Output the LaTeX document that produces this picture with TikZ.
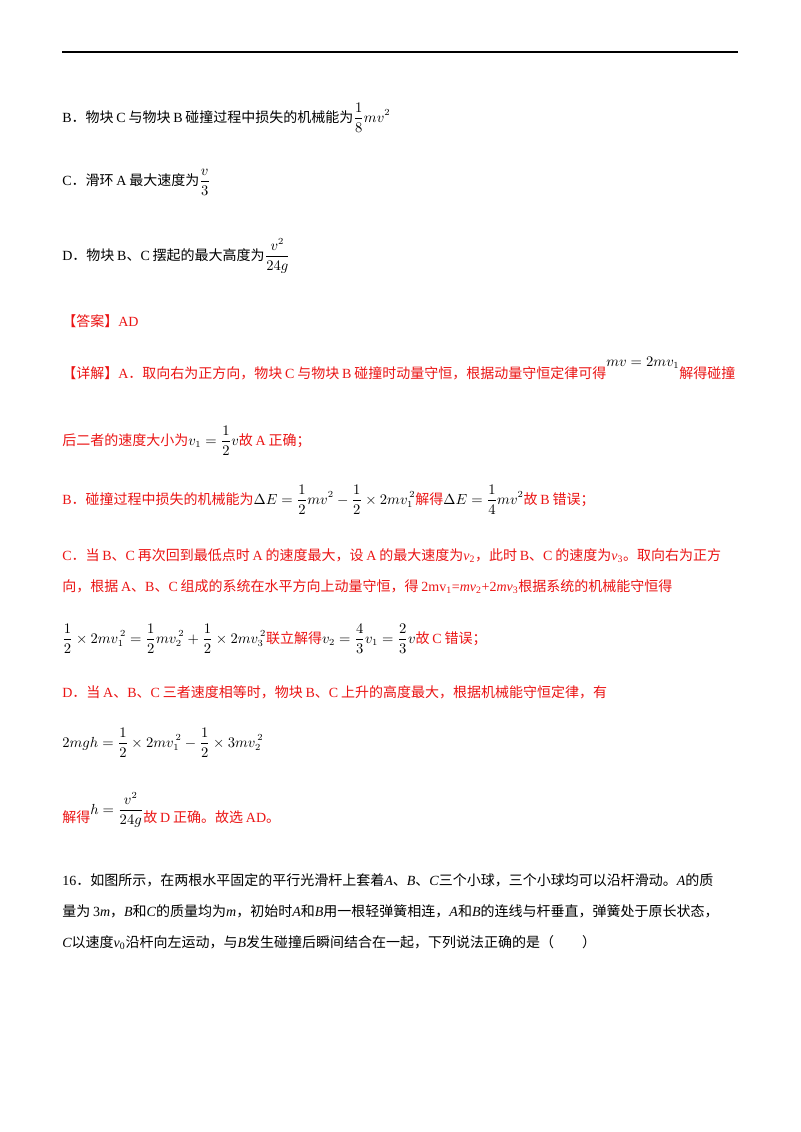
\documentclass[tikz,border=0pt]{standalone}
\usepackage{fontspec}
\usepackage{amsmath}
\setmainfont{Liberation Serif}
\newfontfamily\cjk{Noto Sans CJK SC}
\newfontfamily\lat{Liberation Serif}
\XeTeXinterchartokenstate=1
\newXeTeXintercharclass\cjkclass
\newXeTeXintercharclass\cjkpunct
\count255="4E00
\loop\XeTeXcharclass\count255=\cjkclass\ifnum\count255<"9FFF\advance\count255 1\repeat
\count255="3000
\loop\XeTeXcharclass\count255=\cjkpunct\ifnum\count255<"303F\advance\count255 1\repeat
\count255="FF00
\loop\XeTeXcharclass\count255=\cjkpunct\ifnum\count255<"FFEF\advance\count255 1\repeat
\XeTeXinterchartoks 0 \cjkclass={\hspace{0.2em}\cjk}
\XeTeXinterchartoks 4095 \cjkclass={\cjk}
\XeTeXinterchartoks \cjkclass 0={\lat\hspace{0.2em}}
\XeTeXinterchartoks \cjkclass 4095={\lat}
\XeTeXinterchartoks 0 \cjkpunct={\cjk}
\XeTeXinterchartoks 4095 \cjkpunct={\cjk}
\XeTeXinterchartoks \cjkpunct 0={\lat}
\XeTeXinterchartoks \cjkpunct 4095={\lat}
\definecolor{ansred}{RGB}{235,20,20}
\newcommand{\bk}[1]{{\color{black}#1}}
\tikzset{ln/.style={anchor=base west,inner sep=0pt,font=\fontsize{10.5}{13}\selectfont}}
\begin{document}
\begin{tikzpicture}[x=0.75pt,y=-0.75pt]
\useasboundingbox[fill=white] (0,0) rectangle (800,1132);
\coordinate (l) at (62,52); \coordinate (r) at (738,52);
\draw[line width=1.5pt] (l) -- (r);
\node[ln] (b) at (62,122) {B．物块C与物块B碰撞过程中损失的机械能为$\displaystyle\frac{1}{8}mv^2$};
\node[ln] (c) at (62,185) {C．滑环A最大速度为$\displaystyle\frac{v}{3}$};
\node[ln] (d) at (62,260) {D．物块B、C摆起的最大高度为$\displaystyle\frac{v^2}{24g}$};
\node[ln,text=ansred] (ans) at (62,326) {【答案】AD};
\node[ln,text=ansred] (x1) at (62,378) {【详解】A．取向右为正方向，物块C与物块B碰撞时动量守恒，根据动量守恒定律可得\raisebox{9pt}{\bk{$mv=2mv_1$}}解得碰撞};
\node[ln,text=ansred] (x2) at (62,445) {后二者的速度大小为\bk{$v_1=\displaystyle\frac{1}{2}v$}故A正确；};
\node[ln,text=ansred] (x3) at (62,504) {B．碰撞过程中损失的机械能为\bk{$\Delta E=\displaystyle\frac{1}{2}mv^2-\frac{1}{2}\times2mv_1^{\,2}$}解得\bk{$\Delta E=\displaystyle\frac{1}{4}mv^2$}故B错误；};
\node[ln,text=ansred] (x4) at (62,560) {C．当B、C再次回到最低点时A的速度最大，设A的最大速度为\textit{v}\textsubscript{2}，此时B、C的速度为\textit{v}\textsubscript{3}。取向右为正方};
\node[ln,text=ansred] (x5) at (62,591) {向，根据A、B、C组成的系统在水平方向上动量守恒，得2mv\textsubscript{1}=\textit{mv}\textsubscript{2}+2\textit{mv}\textsubscript{3}根据系统的机械能守恒得};
\node[ln,text=ansred] (x6) at (62,643) {\bk{$\displaystyle\frac{1}{2}\times2mv_1^{\,2}=\frac{1}{2}mv_2^{\,2}+\frac{1}{2}\times2mv_3^{\,2}$}联立解得\bk{$v_2=\displaystyle\frac{4}{3}v_1=\frac{2}{3}v$}故C错误；};
\node[ln,text=ansred] (x7) at (62,697) {D．当A、B、C三者速度相等时，物块B、C上升的高度最大，根据机械能守恒定律，有};
\node[ln] (x8) at (62,747) {$2mgh=\displaystyle\frac{1}{2}\times2mv_1^{\,2}-\frac{1}{2}\times3mv_2^{\,2}$};
\node[ln,text=ansred] (x9) at (62,822) {解得\raisebox{6pt}{\bk{$h=\displaystyle\frac{v^2}{24g}$}}故D正确。故选AD。};
\node[ln] (q1) at (62,885) {16．如图所示，在两根水平固定的平行光滑杆上套着\textit{A}、\textit{B}、\textit{C}三个小球，三个小球均可以沿杆滑动。\textit{A}的质};
\node[ln] (q2) at (62,916) {量为3\textit{m}，\textit{B}和\textit{C}的质量均为\textit{m}，初始时\textit{A}和\textit{B}用一根轻弹簧相连，\textit{A}和\textit{B}的连线与杆垂直，弹簧处于原长状态，};
\node[ln] (q3) at (62,947) {\textit{C}以速度\textit{v}\textsubscript{0}沿杆向左运动，与\textit{B}发生碰撞后瞬间结合在一起，下列说法正确的是（\hspace{2em}）};
\end{tikzpicture}
\end{document}
